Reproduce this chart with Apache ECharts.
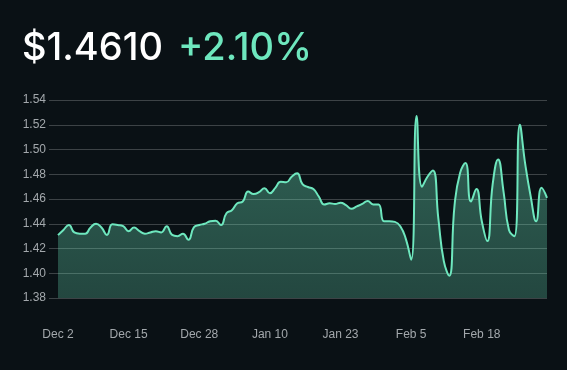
<!DOCTYPE html>
<html>
<head>
<meta charset="utf-8">
<script src="https://cdn.jsdelivr.net/npm/echarts@6/dist/echarts.min.js"></script>
<style>
html,body{margin:0;padding:0;background:#0a1115;}
#chart{width:567px;height:370px;}
</style>
</head>
<body>
<div id="chart"></div>
<script>
// Title values
const priceText = '$1.4610';
const changeText = '+2.10%';

// Categories: daily dates starting Dec 2
const startMonth = 11, startDay = 2, dayCount = 91;
const monthNames = ['Jan','Feb','Mar','Apr','May','Jun','Jul','Aug','Sep','Oct','Nov','Dec'];
const categories = [];
for (let i = 0; i < dayCount; i++) {
  const d = new Date(2024, startMonth, startDay + i);
  categories.push(monthNames[d.getMonth()] + ' ' + d.getDate());
}

// Series values
const prices = [
  1.4308, 1.4350, 1.4390, 1.4330, 1.4320, 1.4320, 1.4370, 1.4400, 1.4370, 1.4310,
  1.4395, 1.4390, 1.4380, 1.4340, 1.4370, 1.4340, 1.4320, 1.4330, 1.4340, 1.4330,
  1.4380, 1.4310, 1.4300, 1.4320, 1.4270, 1.4370, 1.4390, 1.4400, 1.4420, 1.4425,
  1.4390, 1.4485, 1.4510, 1.4565, 1.4580, 1.4660, 1.4640, 1.4655, 1.4687, 1.4647,
  1.4690, 1.4740, 1.4735, 1.4780, 1.4808, 1.4720, 1.4697, 1.4680, 1.4620, 1.4556,
  1.4565, 1.4560, 1.4570, 1.4550, 1.4522, 1.4540, 1.4560, 1.4584, 1.4556, 1.4555,
  1.4420, 1.4420, 1.4415, 1.4380, 1.4280, 1.4110, 1.5270, 1.4700, 1.4780, 1.4830,
  1.4444, 1.4100, 1.3980, 1.4556, 1.4810, 1.4890, 1.4580, 1.4680, 1.4420, 1.4260,
  1.4720, 1.4920, 1.4660, 1.4350, 1.4300, 1.5200, 1.4880, 1.4620, 1.4420, 1.4690,
  1.4610
];

// Axis settings
const yMin = 1.38, yMax = 1.54, yStep = 0.02;
const labelEvery = 13;

const chart = echarts.init(document.getElementById('chart'), null, {renderer: 'canvas'});
chart.setOption({
  backgroundColor: '#0a1115',
  animation: false,
  title: {
    left: 17,
    top: 25,
    text: '{p|' + priceText + '}{c|' + changeText + '}',
    textStyle: {
      rich: {
        p: {fontFamily: 'Inter', fontSize: 38, fontWeight: 500, color: '#ffffff'},
        c: {fontFamily: 'Inter', fontSize: 38, fontWeight: 500, color: '#6ee7be', padding: [0, 0, 0, 15]}
      }
    }
  },
  grid: {left: 58, right: 20, top: 100, bottom: 72},
  xAxis: {
    type: 'category',
    data: categories,
    boundaryGap: false,
    axisLine: {show: false},
    axisTick: {show: false},
    axisLabel: {
      interval: labelEvery - 1,
      margin: 31,
      color: '#a3a8ac',
      fontFamily: 'Liberation Sans',
      fontSize: 12
    },
    splitLine: {show: false}
  },
  yAxis: {
    type: 'value',
    min: yMin,
    max: yMax,
    interval: yStep,
    axisLine: {show: false},
    axisTick: {show: true, length: 9, lineStyle: {color: '#3d4346'}},
    axisLabel: {
      margin: 12,
      color: '#a3a8ac',
      fontFamily: 'Liberation Sans',
      fontSize: 12,
      formatter: v => v.toFixed(2)
    },
    splitLine: {show: true, lineStyle: {color: '#3d4346', width: 1}}
  },
  series: [{
    type: 'line',
    data: prices,
    smooth: 0.5,
    symbol: 'none',
    lineStyle: {color: '#6ee7be', width: 2},
    areaStyle: {
      color: new echarts.graphic.LinearGradient(0, 0, 0, 1, [
        {offset: 0, color: 'rgba(110,231,190,0.55)'},
        {offset: 1, color: 'rgba(110,231,190,0.36)'}
      ]),
      origin: 'start'
    }
  }]
});
</script>
</body>
</html>
